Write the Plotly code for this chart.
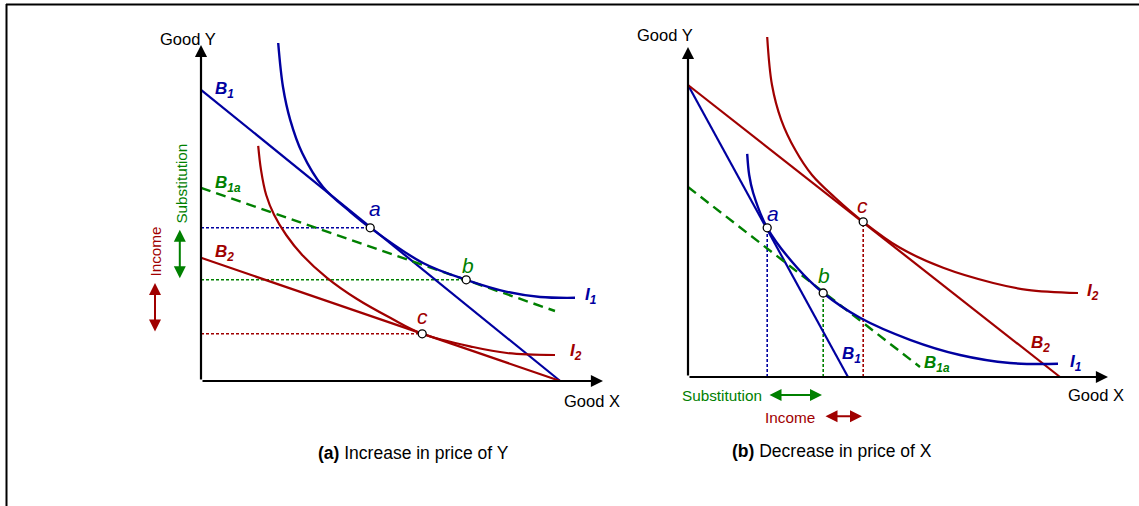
import plotly.graph_objects as go

# ---------------- Panel (a): Increase in price of Y ----------------
# units: quantity of goods (origin at bottom-left of each panel)
a_axis_x_max = 10.05
a_axis_y_max = 8.4

a_B1_x = [0.0, 8.98]
a_B1_y = [7.28, 0.0]
a_B1a_x = [0.0, 8.85]
a_B1a_y = [4.83, 1.75]
a_B2_x = [0.0, 8.98]
a_B2_y = [3.08, 0.0]

a_I1_x = [1.93, 2.05, 2.23, 2.53, 3.05, 3.73, 4.23, 5.55, 6.63, 7.65, 8.48, 9.35]
a_I1_y = [8.45, 7.35, 6.53, 5.70, 4.85, 4.23, 3.83, 2.95, 2.53, 2.23, 2.10, 2.08]
a_I2_x = [1.43, 1.50, 1.63, 1.83, 2.13, 2.53, 3.15, 3.90, 4.73, 5.53, 6.80, 7.65, 8.85]
a_I2_y = [5.88, 5.28, 4.65, 4.15, 3.65, 3.15, 2.58, 2.05, 1.58, 1.18, 0.85, 0.70, 0.65]

a_pts_name = ["a", "b", "c"]
a_pts_x = [4.23, 6.63, 5.53]
a_pts_y = [3.83, 2.53, 1.18]

# ---------------- Panel (b): Decrease in price of X ----------------
b_axis_x_max = 10.5
b_axis_y_max = 8.25

b_B1_x = [0.0, 4.0]
b_B1_y = [7.3, 0.0]
b_B2_x = [0.0, 9.3]
b_B2_y = [7.3, 0.0]
b_B1a_x = [0.0, 5.8]
b_B1a_y = [4.75, 0.25]

b_I1_x = [1.48, 1.53, 1.63, 1.98, 2.73, 3.38, 4.30, 5.55, 6.80, 8.05, 9.25]
b_I1_y = [5.58, 5.05, 4.60, 3.73, 2.73, 2.10, 1.48, 0.93, 0.55, 0.35, 0.33]
b_I2_x = [1.98, 2.10, 2.33, 2.68, 3.10, 3.68, 4.38, 5.30, 6.38, 7.63, 8.48, 9.75]
b_I2_y = [8.50, 7.30, 6.43, 5.68, 5.05, 4.48, 3.88, 3.23, 2.73, 2.35, 2.18, 2.10]

b_pts_name = ["a", "b", "c"]
b_pts_x = [1.98, 3.38, 4.38]
b_pts_y = [3.73, 2.10, 3.88]

BLUE = "#0000A0"
RED = "#A00000"
GREEN = "#008000"
FONT = "Liberation Sans, Arial, sans-serif"

fig = go.Figure()


def line(x, y, color, width=2.2, dash=None, xa="x", ya="y", spline=False):
    fig.add_trace(go.Scatter(
        x=x, y=y, mode="lines", xaxis=xa, yaxis=ya, hoverinfo="skip",
        line=dict(color=color, width=width, dash=dash,
                  shape="spline" if spline else "linear", smoothing=1.0),
        showlegend=False))


# Panel a
pa = dict(xa="x", ya="y")
for (px, py), col in zip(zip(a_pts_x, a_pts_y), [BLUE, GREEN, RED]):
    line([0, px], [py, py], col, width=1.6, dash="3px,2px", **pa)
line(a_B1_x, a_B1_y, BLUE, **pa)
line(a_B2_x, a_B2_y, RED, **pa)
line(a_B1a_x, a_B1a_y, GREEN, width=2.4, dash="10px,6px", **pa)
line(a_I1_x, a_I1_y, BLUE, width=2.4, spline=True, **pa)
line(a_I2_x, a_I2_y, RED, width=2.2, spline=True, **pa)
fig.add_trace(go.Scatter(x=a_pts_x, y=a_pts_y, mode="markers", hoverinfo="skip",
                         marker=dict(size=8, color="white", line=dict(color="black", width=1.3)),
                         showlegend=False, xaxis="x", yaxis="y"))

# Panel b
pb = dict(xa="x2", ya="y2")
for (px, py), col in zip(zip(b_pts_x, b_pts_y), [BLUE, GREEN, RED]):
    line([px, px], [0, py], col, width=1.6, dash="3px,2px", **pb)
line(b_B1_x, b_B1_y, BLUE, **pb)
line(b_B2_x, b_B2_y, RED, **pb)
line(b_B1a_x, b_B1a_y, GREEN, width=2.4, dash="10px,6px", **pb)
line(b_I1_x, b_I1_y, BLUE, width=2.4, spline=True, **pb)
line(b_I2_x, b_I2_y, RED, width=2.2, spline=True, **pb)
fig.add_trace(go.Scatter(x=b_pts_x, y=b_pts_y, mode="markers", hoverinfo="skip",
                         marker=dict(size=8, color="white", line=dict(color="black", width=1.3)),
                         showlegend=False, xaxis="x2", yaxis="y2"))

ann = []


def arrow(x0, y0, x1, y1, color="black", width=2.2, both=False, xr="x", yr="y", size=1.1):
    ann.append(dict(x=x1, y=y1, ax=x0, ay=y0, xref=xr, yref=yr, axref=xr, ayref=yr,
                    text="", showarrow=True, arrowhead=2, arrowsize=size, arrowwidth=width,
                    arrowcolor=color, arrowside="end+start" if both else "end",
                    standoff=0, startstandoff=0))


def txt(x, y, s, color="black", size=14, xr="x", yr="y", xanchor="center", angle=0):
    ann.append(dict(x=x, y=y, xref=xr, yref=yr, text=s, showarrow=False,
                    font=dict(family=FONT, size=size, color=color),
                    xanchor=xanchor, yanchor="middle", textangle=angle))


AX_FS = 16.5
LAB_FS = 17
PT_FS = 21
EFF_FS = 15.3
CAP_FS = 17.5

# axes panel a
arrow(0, 0, 0, a_axis_y_max)
arrow(0, 0, a_axis_x_max, 0)
txt(-0.33, 8.55, "Good Y", size=AX_FS)
txt(9.78, -0.5, "Good X", size=AX_FS)
# axes panel b
arrow(0, 0, 0, b_axis_y_max, xr="x2", yr="y2")
arrow(0, 0, b_axis_x_max, 0, xr="x2", yr="y2")
txt(-0.58, 8.55, "Good Y", size=AX_FS, xr="x2", yr="y2")
txt(10.2, -0.45, "Good X", size=AX_FS, xr="x2", yr="y2")

# labels panel a
txt(0.3, 7.28, "<b><i>B<sub>1</sub></i></b>", BLUE, LAB_FS, xanchor="left")
txt(0.3, 4.93, "<b><i>B<sub>1a</sub></i></b>", GREEN, LAB_FS, xanchor="left")
txt(0.3, 3.2, "<b><i>B<sub>2</sub></i></b>", RED, LAB_FS, xanchor="left")
txt(9.55, 2.13, "<b><i>I<sub>1</sub></i></b>", BLUE, LAB_FS, xanchor="left")
txt(9.18, 0.73, "<b><i>I<sub>2</sub></i></b>", RED, LAB_FS, xanchor="left")
for nm, px, py, col, dx, dy in zip(a_pts_name, a_pts_x, a_pts_y, [BLUE, GREEN, RED],
                                   [0.13, 0.05, 0.0], [0.48, 0.35, 0.43]):
    txt(px + dx, py + dy, "<i>" + nm + "</i>", col, PT_FS)
txt(-0.48, 4.93, "Substitution", GREEN, EFF_FS, angle=-90)
txt(-1.13, 3.23, "Income", RED, EFF_FS, angle=-90)
arrow(-0.53, 2.53, -0.53, 3.78, GREEN, 2.0, both=True, size=1.2)
arrow(-1.15, 1.2, -1.15, 2.45, RED, 2.0, both=True, size=1.2)
txt(5.3, -1.8, "<b>(a)</b> Increase in price of Y", "black", CAP_FS)

# labels panel b
txt(4.08, 0.55, "<b><i>B<sub>1</sub></i></b>", BLUE, LAB_FS, xr="x2", yr="y2")
txt(5.85, 0.33, "<b><i>B<sub>1a</sub></i></b>", GREEN, LAB_FS, xr="x2", yr="y2", xanchor="left")
txt(8.8, 0.82, "<b><i>B<sub>2</sub></i></b>", RED, LAB_FS, xr="x2", yr="y2")
txt(9.5, 0.36, "<b><i>I<sub>1</sub></i></b>", BLUE, LAB_FS, xr="x2", yr="y2", xanchor="left")
txt(9.93, 2.13, "<b><i>I<sub>2</sub></i></b>", RED, LAB_FS, xr="x2", yr="y2", xanchor="left")
for nm, px, py, col, dx, dy in zip(b_pts_name, b_pts_x, b_pts_y, [BLUE, GREEN, RED],
                                   [0.15, 0.03, -0.03], [0.35, 0.45, 0.4]):
    txt(px + dx, py + dy, "<i>" + nm + "</i>", col, PT_FS, xr="x2", yr="y2")
txt(0.85, -0.45, "Substitution", GREEN, EFF_FS, xr="x2", yr="y2")
txt(2.55, -1.0, "Income", RED, EFF_FS, xr="x2", yr="y2")
arrow(2.0, -0.45, 3.35, -0.45, GREEN, 2.0, both=True, xr="x2", yr="y2", size=1.2)
arrow(3.4, -0.98, 4.35, -0.98, RED, 2.0, both=True, xr="x2", yr="y2", size=1.2)
txt(3.6, -1.85, "<b>(b)</b> Decrease in price of X", "black", CAP_FS, xr="x2", yr="y2")

W, H = 1139, 506
ax_common = dict(visible=False, fixedrange=True)
fig.update_layout(
    width=W, height=H, margin=dict(l=0, r=0, t=0, b=0),
    paper_bgcolor="white", plot_bgcolor="rgba(0,0,0,0)",
    xaxis=dict(domain=[0, 1], range=[-201 / 40, (W - 201) / 40], **ax_common),
    yaxis=dict(domain=[0, 1], range=[-(H - 381) / 40, 381 / 40], **ax_common),
    xaxis2=dict(domain=[0, 1], range=[-688 / 40, (W - 688) / 40], anchor="y2", **ax_common),
    yaxis2=dict(domain=[0, 1], range=[-(H - 377) / 40, 377 / 40], anchor="x2", **ax_common),
    annotations=ann,
    shapes=[
        dict(type="line", xref="paper", yref="paper", x0=6.5 / W, x1=6.5 / W, y0=0, y1=1 - 4 / H,
             line=dict(color="black", width=2)),
        dict(type="line", xref="paper", yref="paper", x0=6 / W, x1=1, y0=1 - 4.5 / H, y1=1 - 4.5 / H,
             line=dict(color="black", width=2)),
    ],
    font=dict(family=FONT),
)

fig.write_html(
    "out.html",
    config={"displayModeBar": False},
    post_script="document.body.style.margin='0';document.body.style.padding='0';"
                "document.body.style.overflow='hidden';",
)
